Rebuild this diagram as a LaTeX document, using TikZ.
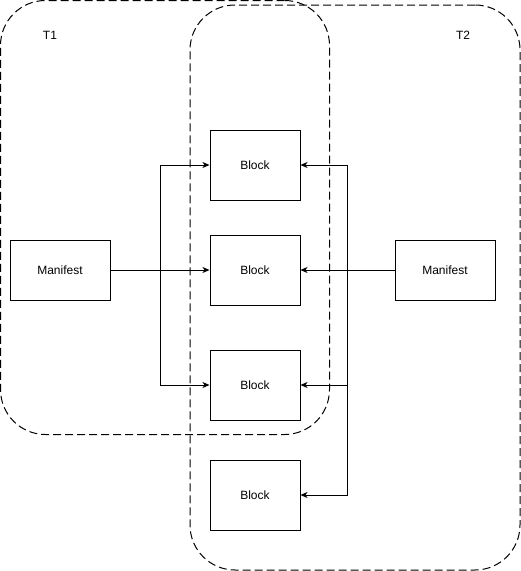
\documentclass[tikz,border=0pt]{standalone}
\usepackage{fontspec}
\setmainfont{Liberation Sans}
\definecolor{mInk}{HTML}{000000}
\usetikzlibrary{arrows.meta, positioning}

\begin{document}
\begin{tikzpicture}[x=1pt, y=-1pt,
    blockbox/.style={draw=mInk, line width=1pt, minimum width=90pt, minimum height=70pt, inner sep=0pt, font=\fontsize{12}{14}\selectfont},
    manibox/.style={blockbox, minimum width=100pt, minimum height=60pt},
    group/.style={draw=mInk, line width=1pt, dash pattern=on 8pt off 4pt, rounded corners=45pt, inner sep=0pt},
    link/.style={draw=mInk, line width=1pt, -{Stealth[length=7pt, width=6pt, inset=2pt]}}]
  \useasboundingbox (0,0) rectangle (521,571);
  % the two transactions
  \node[group, minimum width=329pt, minimum height=434pt] (t1) at (165,217.5) {};
  \node[group, minimum width=330pt, minimum height=565pt] (t2) at (355,287.5) {};
  \node[font=\fontsize{12}{14}\selectfont] (t1lab) at (50,35) {T1};
  \node[font=\fontsize{12}{14}\selectfont] (t2lab) at (463,35) {T2};
  % blocks
  \node[blockbox] (b1) at (255,165) {Block};
  \node[blockbox] (b2) at (255,270) {Block};
  \node[blockbox] (b3) at (255,385) {Block};
  \node[blockbox] (b4) at (255,495) {Block};
  \node[manibox] (mL) at (60,270) {Manifest};
  \node[manibox] (mR) at (445,270) {Manifest};
  % links
  \coordinate (jL) at (160,270);
  \coordinate (jR) at (347,270);
  \draw[link] (mL) -- (b2);
  \draw[link] (jL) |- (b1.west);
  \draw[link] (jL) |- (b3.west);
  \draw[link] (mR) -- (b2);
  \draw[link] (jR) |- (b1.east);
  \draw[link] (jR) |- (b3.east);
  \draw[link] (jR) |- (b4.east);
\end{tikzpicture}
\end{document}
